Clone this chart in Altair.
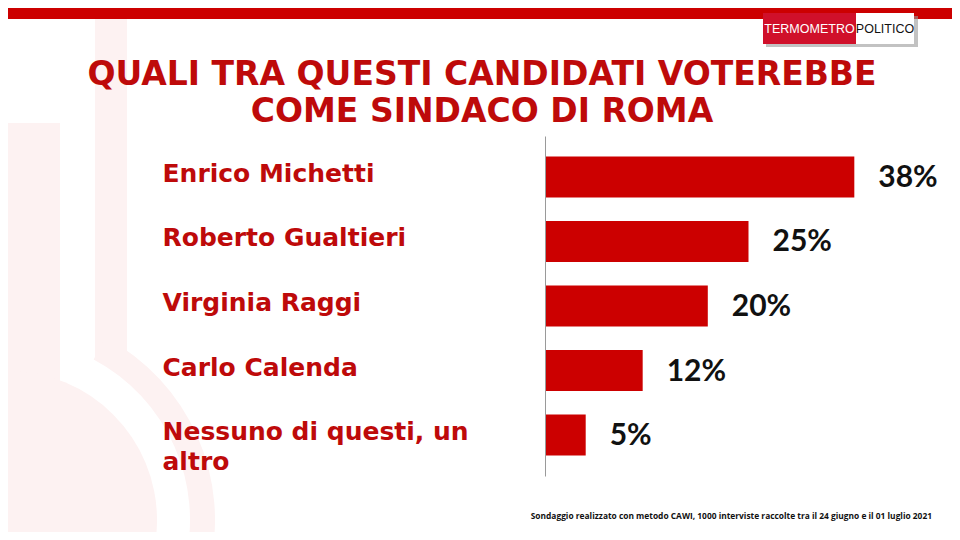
import altair as alt
import pandas as pd

candidates = ["Enrico Michetti", "Roberto Gualtieri", "Virginia Raggi", "Carlo Calenda", "Nessuno di questi, un altro"]
values = [38, 25, 20, 12, 5]
value_labels = ["38%", "25%", "20%", "12%", "5%"]

title_lines = ["QUALI TRA QUESTI CANDIDATI VOTEREBBE", "COME SINDACO DI ROMA"]
footnote = "Sondaggio realizzato con metodo CAWI, 1000 interviste raccolte tra il 24 giugno e il 01 luglio 2021"
logo_left = "TERMOMETRO"
logo_right = "POLITICO"

RED = "#CC0000"
TXT_RED = "#BE0A0A"
WM = "#fdf2f2"

df = pd.DataFrame({"candidate": candidates, "value": values, "label": value_labels})
one = pd.DataFrame({"k": [0]})

W, H = 407, 340

# faint watermark (thermometer outline)
wm_tube = alt.Chart(one).mark_rect(color=WM).encode(
    x=alt.value(95 - 545), x2=alt.value(127 - 545), y=alt.value(-128), y2=alt.value(360 - 136))
wm_inner = alt.Chart(one).mark_rect(color=WM).encode(
    x=alt.value(-537), x2=alt.value(60 - 545), y=alt.value(123 - 136), y2=alt.value(300))
wm_bulb = alt.Chart(one).mark_arc(color=WM, theta=0, theta2=6.2832, radius=149).encode(
    x=alt.value(-537), y=alt.value(520 - 136))
wm_ring = alt.Chart(one).mark_arc(color=WM, theta=0.49, theta2=3.1416, radius=207, radius2=182).encode(
    x=alt.value(-537), y=alt.value(520 - 136))

# top red band
band = alt.Chart(one).mark_rect(color=RED).encode(
    x=alt.value(-537), x2=alt.value(W), y=alt.value(-128), y2=alt.value(-117))

# logo
logo_shadow = alt.Chart(one).mark_rect(color="#9a9a9a", opacity=0.6).encode(
    x=alt.value(221), x2=alt.value(373), y=alt.value(-120), y2=alt.value(-89))
logo_red = alt.Chart(one).mark_rect(color="#D0102A").encode(
    x=alt.value(218), x2=alt.value(311), y=alt.value(-123), y2=alt.value(-92))
logo_white = alt.Chart(one).mark_rect(color="white").encode(
    x=alt.value(311), x2=alt.value(369), y=alt.value(-123), y2=alt.value(-92))
logo_t1 = alt.Chart(one).mark_text(text=logo_left, font="Liberation Sans", fontSize=12.5,
                                   color="white", align="center", baseline="alphabetic").encode(
    x=alt.value(264.5), y=alt.value(-103))
logo_t2 = alt.Chart(one).mark_text(text=logo_right, font="Liberation Sans", fontSize=12.5,
                                   color="#111111", align="center", baseline="alphabetic").encode(
    x=alt.value(340), y=alt.value(-103))

# title
title = alt.Chart(one).mark_text(text=title_lines, font="DejaVu Sans", fontWeight="bold", fontSize=33,
                                 lineHeight=37, color=TXT_RED, align="center", baseline="alphabetic").encode(
    x=alt.value(482 - 545), y=alt.value(85 - 136))

# footnote
foot = alt.Chart(one).mark_text(text=footnote, font="Open Sans", fontWeight="bold", fontSize=8.4,
                                color="#111111", align="right", baseline="alphabetic").encode(
    x=alt.value(932 - 545), y=alt.value(519 - 136))

ysc = alt.Y("candidate:N", sort=candidates,
            scale=alt.Scale(paddingInner=0.364, paddingOuter=0.317),
            axis=alt.Axis(title=None, ticks=False, domain=True, domainColor="#9a9a9a", domainWidth=1,
                          labelAlign="left", labelPadding=383, labelFont="DejaVu Sans",
                          labelFontWeight="bold", labelFontSize=25, labelColor=TXT_RED,
                          labelBaseline="alphabetic", labelOffset=5, labelLineHeight=30,
                          labelLimit=400, zindex=1,
                          labelExpr="datum.label == 'Nessuno di questi, un altro' ? ['Nessuno di questi, un', 'altro'] : datum.label"))
xsc = alt.X("value:Q", scale=alt.Scale(domain=[0, 50], nice=False), axis=None)

bars = alt.Chart(df).mark_bar(color=RED).encode(x=xsc, y=ysc)
texts = alt.Chart(df).mark_text(font="Lato", fontWeight="bold", fontSize=30, color="#111111",
                                align="left", baseline="middle", dx=24, dy=1).encode(
    x=xsc, y=alt.Y("candidate:N", sort=candidates), text="label:N")

chart = alt.layer(wm_tube, wm_inner, wm_bulb, wm_ring, band, logo_shadow, logo_red, logo_white,
                  logo_t1, logo_t2, title, foot, bars, texts).properties(
    width=W, height=H, autosize="none",
    padding={"left": 537, "top": 128, "right": 0, "bottom": 56},
    background="white"
).configure_view(stroke=None)

chart.save("out.html", embed_options={"renderer": "svg", "actions": False})
